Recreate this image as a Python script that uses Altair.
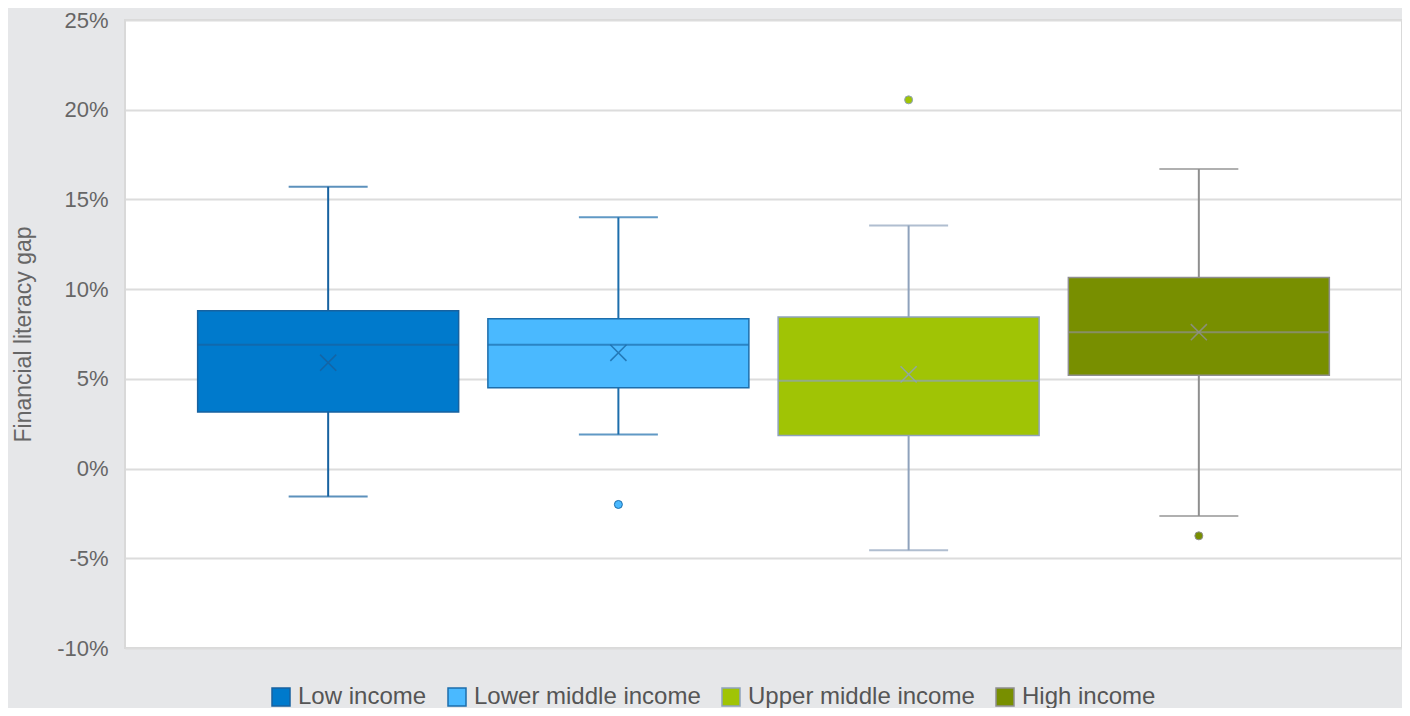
import altair as alt
import pandas as pd

categories = ["Low income", "Lower middle income", "Upper middle income", "High income"]
whisker_low = [-1.55, 1.9, -4.55, -2.65]
q1 = [3.15, 4.5, 1.85, 5.2]
median = [6.9, 6.9, 4.9, 7.6]
q3 = [8.8, 8.35, 8.45, 10.65]
whisker_high = [15.7, 14.0, 13.55, 16.7]
mean = [5.9, 6.45, 5.25, 7.6]

outlier_group = ["Lower middle income", "Upper middle income", "High income"]
outlier_value = [-2.0, 20.55, -3.75]

y_ticks = [-10, -5, 0, 5, 10, 15, 20, 25]

fill_colors = ["#007ACC", "#4AB9FF", "#A0C405", "#788F00"]
stroke_colors = ["#1762A0", "#1D6EAC", "#8FA2BC", "#8F8F8F"]

box_df = pd.DataFrame({
    "group": categories,
    "low": whisker_low,
    "q1": q1,
    "median": median,
    "q3": q3,
    "high": whisker_high,
    "mean": mean,
})
out_df = pd.DataFrame({"group": outlier_group, "value": outlier_value})

FONT = "Liberation Sans"

x = alt.X("group:N", sort=categories,
          scale=alt.Scale(domain=categories, paddingInner=0, paddingOuter=0.2),
          axis=None)
yscale = alt.Scale(domain=[-10, 25], nice=False, zero=False)
yaxis = alt.Axis(values=y_ticks, labelExpr="datum.value + '%'", domain=False, ticks=False,
                 labelPadding=17, labelFontSize=22, labelColor="#666666",
                 titleFontSize=23, titleColor="#666666", titleFontWeight="normal",
                 titlePadding=21, grid=True, gridColor="#dcdcdc", gridWidth=2)

legend = alt.Legend(orient="none", legendX=144, legendY=665, direction="horizontal",
                    symbolType="square", symbolSize=324, symbolStrokeWidth=1.5,
                    labelFontSize=24, labelColor="#555555", labelFont=FONT,
                    labelLimit=500, labelOffset=5, columnPadding=18, padding=0, title=None)

fill_enc = alt.Fill("group:N", scale=alt.Scale(domain=categories, range=fill_colors),
                    legend=legend, title=None)
stroke_enc = alt.Stroke("group:N", scale=alt.Scale(domain=categories, range=stroke_colors),
                        legend=legend, title=None)
# same mapping as the stroke scale, listed in reverse so its (hidden) legend stays separate
line_color = alt.Color("group:N",
                       scale=alt.Scale(domain=categories[::-1], range=stroke_colors[::-1]),
                       legend=None)

base = alt.Chart(box_df)

whiskers = base.mark_rule(strokeWidth=2).encode(
    x=x,
    y=alt.Y("low:Q", scale=yscale, axis=yaxis, title="Financial literacy gap"),
    y2="high:Q",
    color=line_color,
)

boxes = base.mark_bar(size=261, strokeWidth=1.5).encode(
    x=x, y=alt.Y("q1:Q", scale=yscale), y2="q3:Q", fill=fill_enc, stroke=stroke_enc,
)

medians = base.mark_tick(size=261, thickness=2).encode(
    x=x, y=alt.Y("median:Q", scale=yscale), color=line_color,
)

cap_low = base.mark_tick(size=79, thickness=2).encode(
    x=x, y=alt.Y("low:Q", scale=yscale), color=line_color,
)
cap_high = base.mark_tick(size=79, thickness=2).encode(
    x=x, y=alt.Y("high:Q", scale=yscale), color=line_color,
)

means = base.mark_point(shape="M-1,-1L1,1M-1,1L1,-1", size=260, strokeWidth=1.5,
                        filled=False, opacity=0.85).encode(
    x=x, y=alt.Y("mean:Q", scale=yscale), color=line_color,
)

outliers = alt.Chart(out_df).mark_circle(size=64, strokeWidth=1, opacity=1).encode(
    x=x, y=alt.Y("value:Q", scale=yscale), fill=fill_enc, stroke=stroke_enc,
)

chart = alt.layer(whiskers, boxes, medians, cap_low, cap_high, means, outliers).properties(
    width=1277, height=628,
    autosize=alt.AutoSizeParams(type="none"),
    padding={"left": 117, "top": 12, "right": 0, "bottom": 60},
    background="#e6e7e9",
).configure(font=FONT).configure_view(
    fill="white", stroke="#d9d9d9", strokeWidth=2
)

chart.save("out.html", embed_options={"renderer": "svg", "actions": False})
